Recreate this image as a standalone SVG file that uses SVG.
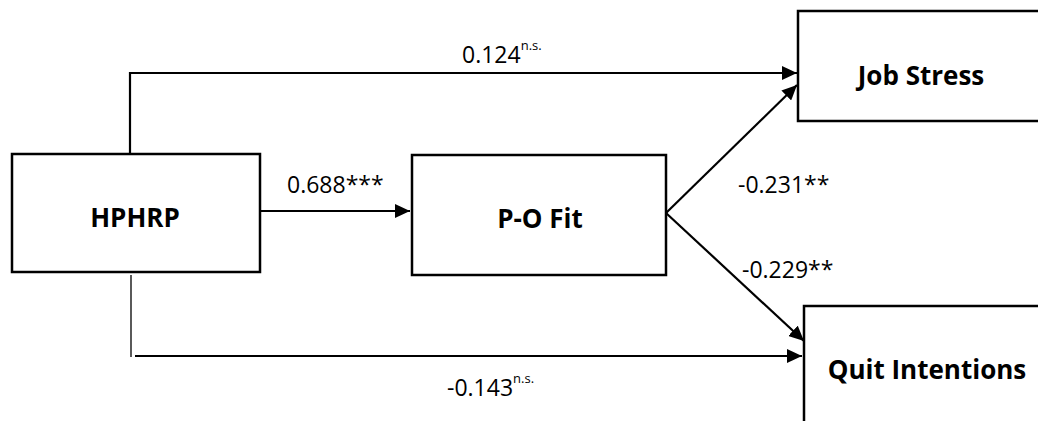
<svg xmlns="http://www.w3.org/2000/svg" width="1038" height="421" viewBox="0 0 1038 421">
<style>
.box{fill:#fff;stroke:#000;stroke-width:2.5}
.lbl{font-family:"Open Sans","Liberation Sans",sans-serif;font-weight:bold;font-size:26px;fill:#000}
.num{font-family:"Open Sans","Liberation Sans",sans-serif;font-size:23px;fill:#000}
.sup{font-size:13px}
.ln{fill:none;stroke:#000;stroke-width:2.2}
</style>
<defs>
<marker id="ah" markerUnits="userSpaceOnUse" markerWidth="16" markerHeight="14" refX="15" refY="7" orient="auto">
<path d="M0,0 L15,7 L0,14 Z" fill="#000"/>
</marker>
</defs>
<rect width="1038" height="421" fill="#fff"/>
<g id="connectors">
<polyline class="ln" points="130,154 130,73 797,73" marker-end="url(#ah)"/>
<line class="ln" x1="260" y1="211" x2="410" y2="211" marker-end="url(#ah)"/>
<line class="ln" x1="666" y1="213" x2="797" y2="85" marker-end="url(#ah)"/>
<line class="ln" x1="666" y1="213" x2="804" y2="341" marker-end="url(#ah)"/>
<line x1="131" y1="275" x2="131" y2="357" stroke="#000" stroke-width="1.3"/>
<line class="ln" x1="135" y1="356" x2="802" y2="356" marker-end="url(#ah)"/>
<text class="num" x="462" y="63">0.124<tspan class="sup" dy="-13">n.s.</tspan></text>
<text class="num" x="287" y="193">0.688***</text>
<text class="num" x="738" y="193">-0.231**</text>
<text class="num" x="742" y="278">-0.229**</text>
<text class="num" x="447" y="396">-0.143<tspan class="sup" dy="-13">n.s.</tspan></text>
</g>
<g id="hphrp">
<rect class="box" x="12" y="154" width="248" height="118"/>
<text class="lbl" x="135" y="227" text-anchor="middle">HPHRP</text>
</g>
<g id="pofit">
<rect class="box" x="412" y="155" width="254" height="120"/>
<text class="lbl" x="540" y="228" text-anchor="middle">P-O Fit</text>
</g>
<g id="jobstress">
<rect class="box" x="798" y="11" width="245" height="110"/>
<text class="lbl" x="921" y="85" text-anchor="middle">Job Stress</text>
</g>
<g id="quit">
<rect class="box" x="804" y="306" width="240" height="130"/>
<text class="lbl" x="927" y="379" text-anchor="middle">Quit Intentions</text>
</g>
</svg>
